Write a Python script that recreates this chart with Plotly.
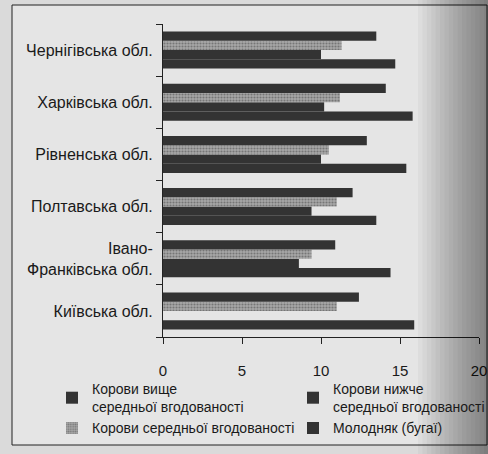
import plotly.graph_objects as go

regions = ["Чернігівська обл.", "Харківська обл.", "Рівненська обл.",
           "Полтавська обл.", "Івано-<br>Франківська обл.", "Київська обл."]
series_names = ["Корови вище<br>середньої вгодованості",
                "Корови нижче<br>середньої вгодованості",
                "Корови середньої вгодованості",
                "Молодняк (бугаї)"]
above_avg = [14.7, 15.8, 15.4, 13.5, 14.4, 15.9]
below_avg = [10.0, 10.2, 10.0, 9.4, 8.6, 0]
average = [11.3, 11.2, 10.5, 11.0, 9.4, 11.0]
young = [13.5, 14.1, 12.9, 12.0, 10.9, 12.4]
x_ticks = [0, 5, 10, 15, 20]

font_fam = "Liberation Sans, Arial, sans-serif"
dark = "#333333"
txt = "#1a1a1a"

W, H = 488, 454
ML, MR, MT, MB = 163, 9, 24, 117
PW, PH = W - ML - MR, H - MT - MB

fig = go.Figure()
values = [above_avg, below_avg, average, young]
legend_ids = ["legend", "legend2", "legend", "legend2"]
for i, (name, vals) in enumerate(zip(series_names, values)):
    if i == 2:
        marker = dict(color="#a0a0a0", line=dict(width=0),
                      pattern=dict(shape=".", size=3, solidity=0.4,
                                   fgcolor="#444444", bgcolor="#a8a8a8"))
    else:
        marker = dict(color=dark, line=dict(width=0))
    fig.add_trace(go.Bar(y=regions, x=vals, name=name, orientation="h",
                         marker=marker, legend=legend_ids[i]))

leg_common = dict(orientation="v", xref="container", yref="container",
                  xanchor="left", yanchor="top", traceorder="normal",
                  itemwidth=30, bgcolor="rgba(0,0,0,0)", borderwidth=0,
                  font=dict(family=font_fam, size=14, color=txt))


def px(xp):
    return (xp - ML) / PW


def py(yp):
    return 1 - (yp - MT) / PH


shapes = [dict(type="rect", xref="paper", yref="paper",
               x0=px(12), x1=px(487), y0=py(445), y1=py(5),
               line=dict(color="#222", width=1), fillcolor="#e5e5e5",
               layer="below")]
# scanned-page shadow on the right edge
for k in range(16):
    x0 = 418 + k * 4.4
    shapes.append(dict(type="rect", xref="paper", yref="paper",
                       x0=px(x0), x1=px(488), y0=py(454), y1=py(0),
                       line=dict(width=0), fillcolor="rgba(0,0,0,0.03)",
                       layer="above"))

fig.update_layout(
    width=W, height=H,
    margin=dict(l=ML, r=MR, t=MT, b=MB, autoexpand=False),
    barmode="group", bargap=0.29, bargroupgap=0,
    paper_bgcolor="#dadada", plot_bgcolor="#ebebeb",
    font=dict(family=font_fam, size=15, color=txt),
    showlegend=True,
    legend=dict(x=52 / W, y=1 - 373 / H, **leg_common),
    legend2=dict(x=293 / W, y=1 - 373 / H, **leg_common),
    shapes=shapes,
)
fig.update_xaxes(range=[0, 20], tickvals=x_ticks, ticks="outside", ticklen=6,
                 tickcolor="#222", showline=True, linecolor="#222", linewidth=1,
                 showgrid=False, zeroline=False, automargin=False,
                 ticklabelstandoff=14,
                 tickfont=dict(family=font_fam, size=15, color=txt))
fig.update_yaxes(categoryorder="array", categoryarray=regions[::-1],
                 tickson="boundaries", ticks="outside", ticklen=6,
                 tickcolor="#222", showline=True, linecolor="#222", linewidth=1,
                 showgrid=False, automargin=False, ticklabelstandoff=6,
                 tickfont=dict(family=font_fam, size=16, color=txt))

fig.write_html("out.html", config={"displayModeBar": False},
               post_script="document.body.style.margin='0';")
